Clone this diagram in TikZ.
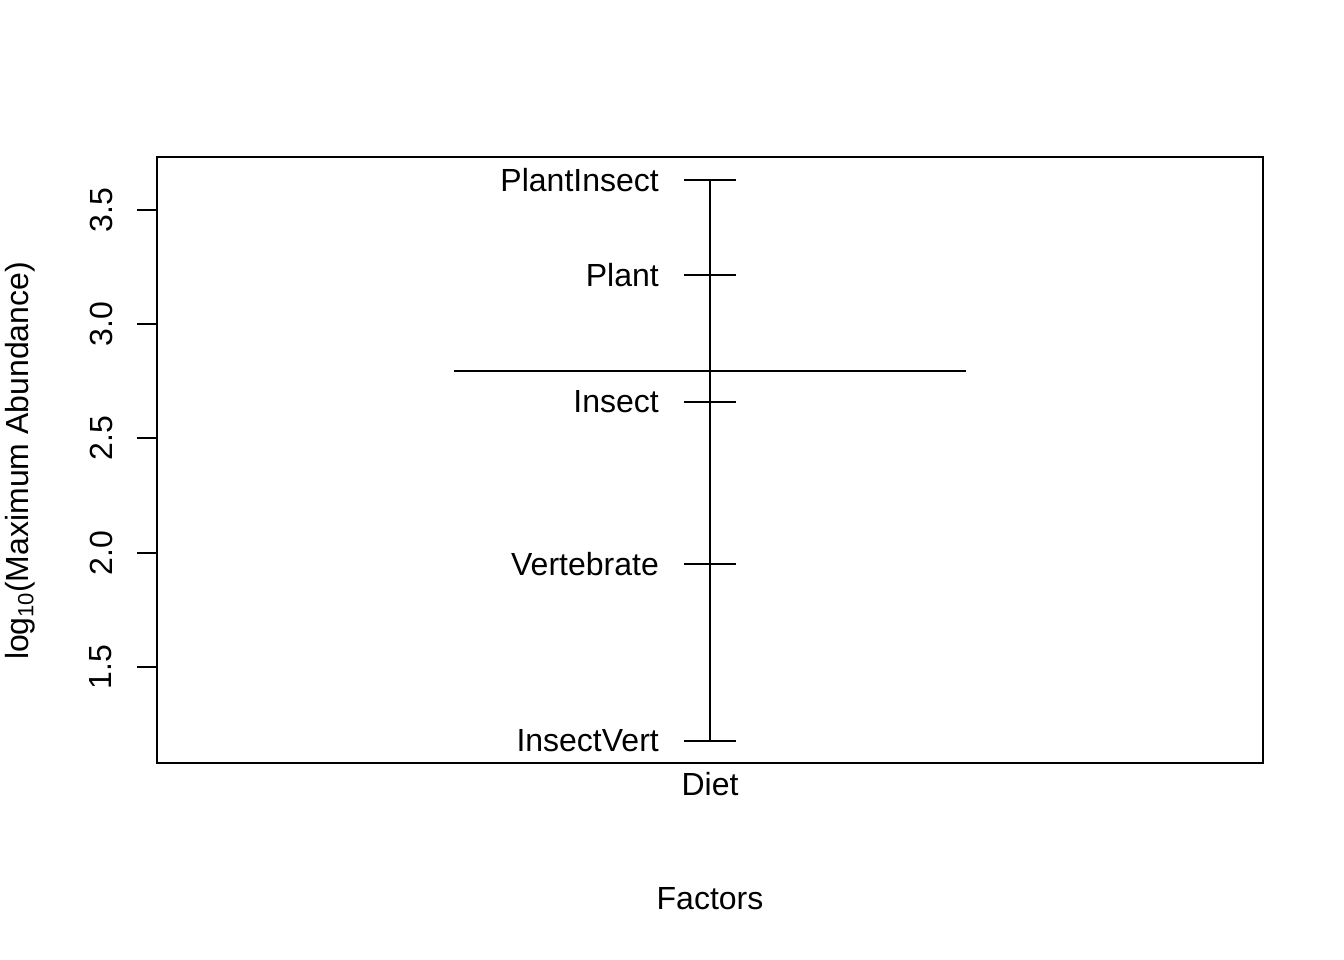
\documentclass[tikz,border=0pt]{standalone}
\usepackage{fontspec}
\setmainfont{Liberation Sans}
\begin{document}
\begin{tikzpicture}[x=1pt,y=-1pt,
  lbl/.style={font=\fontsize{32}{36}\selectfont, inner sep=0pt},
  lvl/.style={lbl, anchor=east},
  line/.style={line width=1.4pt, line cap=butt},
  ticklbl/.style={lbl, rotate=90}]
\useasboundingbox (0,0) rectangle (1344,960);
% plot box
\draw[line] (157,157) rectangle (1263,763);
% y axis ticks
\foreach \k/\v/\yy in {a/3.5/210,b/3.0/324,c/2.5/438,d/2.0/553,e/1.5/667}{
  \coordinate (ta\k) at (137,\yy);
  \coordinate (tb\k) at (157,\yy);
  \draw[line] (ta\k) -- (tb\k);
  \node[ticklbl] (tl\k) at (101,\yy) {\v};
}
\node[ticklbl] (ytitle) at (20,461) {log{\fontsize{22}{22}\selectfont\raisebox{-5pt}{10}}(Maximum Abundance)};
% factor column
\coordinate (top) at (710,180);
\coordinate (bot) at (710,741);
\draw[line] (top) -- (bot);
\coordinate (ml) at (454,371);
\coordinate (mr) at (966,371);
\draw[line] (ml) -- (mr);
\foreach \n/\t/\yy in {pi/PlantInsect/180, p/Plant/275, i/Insect/402, v/Vertebrate/564, iv/InsectVert/741}{
  \coordinate (l\n) at (684,\yy);
  \coordinate (r\n) at (736,\yy);
  \draw[line] (l\n) -- (r\n);
  \node[lvl] (n\n) at (659,\yy) {\t};
}
\node[lbl] (diet) at (710,784) {Diet};
\node[lbl] (factors) at (710,899) {Factors};
\end{tikzpicture}
\end{document}
